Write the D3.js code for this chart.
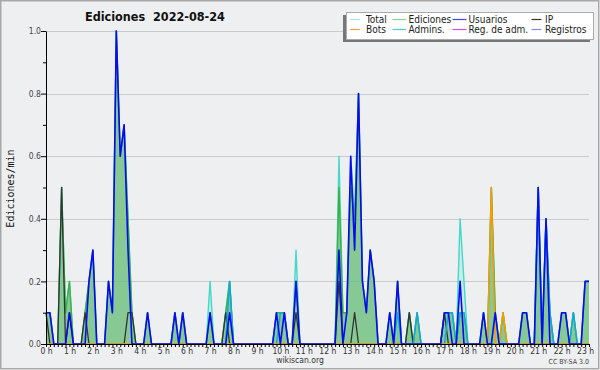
<!DOCTYPE html>
<html>
<head>
<meta charset="utf-8">
<script src="https://cdn.jsdelivr.net/npm/d3@7"></script>
<style>
  body { margin: 0; background: #fff; }
  text { font-family: "DejaVu Sans Condensed", "DejaVu Sans", sans-serif; font-stretch: condensed; }
</style>
</head>
<body>
<div id="chart"></div>
<script>
// Edits per minute, one value every 10 minutes from 00:00 to 23:10 (140 points)
var hourLabels = d3.range(0, 24).map(function(h) { return h + " h"; });
var yTicks = [0, 0.2, 0.4, 0.6, 0.8, 1.0];

var total = [
  .1,.1,0,0,.5,.1,.2,0,0,0,.1,.2,
  .3,0,0,0,.2,.1,1,.6,.7,.4,.1,0,
  0,0,.1,0,0,0,0,0,0,.1,0,.1,
  0,0,0,0,0,0,.2,0,0,0,.1,.2,
  0,0,0,0,0,0,0,0,0,0,0,.1,
  .1,.1,0,0,.3,0,0,0,0,0,0,0,
  0,0,0,.6,.1,.1,.6,.4,.8,.2,.1,.3,
  .2,0,0,0,.1,0,.2,0,0,.1,0,.1,
  0,0,0,0,0,0,.1,.1,.1,0,.4,.2,
  0,0,0,0,.1,0,.5,.1,0,.1,0,0,
  0,0,.1,.1,0,0,.5,0,.4,.1,0,0,
  .1,.1,0,.1,0,0,.2,.2
];
var edits = [
  .1,.1,0,0,.5,.1,.2,0,0,0,.1,.2,
  .3,0,0,0,.2,.1,1,.6,.7,.4,.1,0,
  0,0,.1,0,0,0,0,0,0,.1,0,.1,
  0,0,0,0,0,0,.1,0,0,0,.1,.2,
  0,0,0,0,0,0,0,0,0,0,0,.1,
  .1,.1,0,0,.2,0,0,0,0,0,0,0,
  0,0,0,.5,.1,.1,.5,.4,.8,.2,.1,.3,
  .2,0,0,0,.1,0,.2,0,0,.1,0,.1,
  0,0,0,0,0,0,.1,.1,.1,0,.1,.1,
  0,0,0,0,.1,0,.5,.1,0,.1,0,0,
  0,0,.1,.1,0,0,.5,0,.4,.1,0,0,
  .1,.1,0,.1,0,0,.2,.2
];
var users = [
  .1,.1,0,0,0,0,.1,0,0,0,0,.2,
  .3,0,0,0,.2,.1,1,.6,.7,.3,0,0,
  0,0,.1,0,0,0,0,0,0,.1,0,.1,
  0,0,0,0,0,0,.1,0,0,0,0,.1,
  0,0,0,0,0,0,0,0,0,0,0,.1,
  0,.1,0,0,.2,0,0,0,0,0,0,0,
  0,0,0,.3,0,.1,.6,.3,.8,.2,.1,.3,
  .2,0,0,0,.1,0,.2,0,0,0,0,0,
  0,0,0,0,0,0,.1,.1,0,0,.2,0,
  0,0,0,0,.1,0,0,.1,0,0,0,0,
  0,0,.1,.1,0,0,.5,0,.4,0,0,0,
  .1,.1,0,0,0,0,.2,.2
];
var ip = [
  .1,0,0,0,.5,0,.1,0,0,0,.1,0,
  0,0,0,0,0,0,0,0,0,.1,.1,0,
  0,0,0,0,0,0,0,0,0,0,0,0,
  0,0,0,0,0,0,0,0,0,0,.1,0,
  0,0,0,0,0,0,0,0,0,0,0,0,
  0,0,0,0,.1,0,0,0,0,0,0,0,
  0,0,0,.2,0,0,0,.1,0,0,0,0,
  0,0,0,0,0,0,0,0,0,.1,0,0,
  0,0,0,0,0,0,.1,0,0,0,0,0,
  0,0,0,0,0,0,0,0,0,0,0,0,
  0,0,0,0,0,0,0,0,0,0,0,0,
  0,0,0,0,0,0,0,0
];
var bots = [
  0,0,0,0,0,0,0,0,0,0,0,0,
  0,0,0,0,0,0,0,0,0,0,0,0,
  0,0,0,0,0,0,0,0,0,0,0,0,
  0,0,0,0,0,0,0,0,0,0,0,0,
  0,0,0,0,0,0,0,0,0,0,0,0,
  0,0,0,0,0,0,0,0,0,0,0,0,
  0,0,0,0,0,0,0,0,0,0,0,0,
  0,0,0,0,0,0,0,0,0,0,0,0,
  0,0,0,0,0,0,0,0,0,0,0,0,
  0,0,0,0,0,0,.5,0,0,.1,0,0,
  0,0,0,0,0,0,0,0,0,0,0,0,
  0,0,0,0,0,0,0,0
];
var admins = [
  0,0,0,0,0,0,0,0,0,0,0,0,
  0,0,0,0,0,0,0,0,0,0,0,0,
  0,0,0,0,0,0,0,0,0,0,0,0,
  0,0,0,0,0,0,0,0,0,0,0,.2,
  0,0,0,0,0,0,0,0,0,0,0,0,
  .1,.1,0,0,0,0,0,0,0,0,0,0,
  0,0,0,0,0,0,0,0,0,0,0,0,
  0,0,0,0,0,0,.1,0,0,0,0,.1,
  0,0,0,0,0,0,0,.1,.1,0,.1,.1,
  0,0,0,0,0,0,0,0,0,0,0,0,
  0,0,0,0,0,0,.5,0,.4,.1,0,0,
  0,0,0,.1,0,0,0,0
];

var legendNames = ["Total", "Ediciones", "Usuarios", "IP", "Bots", "Admins.", "Reg. de adm.", "Registros"];
var legendColors = ["#a6e4dc", "#8fd08f", "#4444e8", "#333333", "#f5a040", "#4cc8d8", "#d050e0", "#8888f0"];

var width = 600, height = 370;

var svg = d3.select("#chart").append("svg")
  .attr("width", width)
  .attr("height", height);

svg.append("rect")
  .attr("x", 0.75).attr("y", 0.75)
  .attr("width", width - 2).attr("height", height - 2)
  .style("fill", "#eeeff1")
  .style("stroke", "#a8a8a8")
  .style("stroke-width", 1.5);

var x = d3.scaleLinear().domain([0, total.length - 1]).range([46, 589]);
var y = d3.scaleLinear().domain([0, 1]).range([344, 31]);

// grid
svg.append("g").selectAll("line")
  .data(yTicks.slice(1))
  .enter().append("line")
  .attr("x1", x(0)).attr("x2", x(total.length - 1))
  .attr("y1", function(d) { return Math.round(y(d)) + 0.5; })
  .attr("y2", function(d) { return Math.round(y(d)) + 0.5; })
  .style("stroke", "#cbcbcb");

// series
var area = d3.area()
  .x(function(d, i) { return x(i); })
  .y0(y(0))
  .y1(function(d) { return y(d); });
var line = d3.line()
  .x(function(d, i) { return x(i); })
  .y(function(d) { return y(d); });

svg.append("path").datum(total).attr("d", area)
  .style("fill", "#aee8e0").style("opacity", 0.55);
svg.append("path").datum(edits).attr("d", area)
  .style("fill", "#50ad50").style("opacity", 0.55);

var lines = [
  { data: total, color: "#44d8c8", w: 1.4 },
  { data: edits, color: "#3cb043", w: 1.4 },
  { data: ip, color: "#333333", w: 1.3 },
  { data: admins, color: "#14a8d8", w: 1.5 },
  { data: bots, color: "#ff9900", w: 1.5 },
  { data: users, color: "#0a0af0", w: 1.6 }
];
lines.forEach(function(s) {
  svg.append("path").datum(s.data).attr("d", line)
    .style("fill", "none")
    .style("stroke", s.color)
    .style("stroke-width", s.w)
    .style("stroke-linejoin", "round");
});

// axes
var xAxis = d3.axisBottom(x)
  .tickValues(d3.range(0, total.length))
  .tickSize(3).tickSizeOuter(0)
  .tickFormat(function(i) { return i % 6 === 0 ? hourLabels[i / 6] : ""; });
var gx = svg.append("g")
  .attr("transform", "translate(0,344)")
  .call(xAxis);
gx.select(".domain").style("stroke", "#000");
gx.selectAll(".tick line").style("stroke", "#000");
gx.selectAll(".tick text")
  .attr("y", 4)
  .style("font-size", "8.5px")
  .style("fill", "#333")
  .style("font-family", null);

var gyMinor = svg.append("g")
  .attr("transform", "translate(46,0)")
  .call(d3.axisLeft(y).tickValues([0.1, 0.3, 0.5, 0.7, 0.9]).tickSize(3).tickFormat(""));
gyMinor.select(".domain").remove();
gyMinor.selectAll(".tick line").style("stroke", "#000");

var gy = svg.append("g")
  .attr("transform", "translate(46,0)")
  .call(d3.axisLeft(y).tickValues(yTicks).tickSize(5).tickSizeOuter(0).tickFormat(d3.format(".1f")));
gy.select(".domain").style("stroke", "#000");
gy.selectAll(".tick line").style("stroke", "#000");
gy.selectAll(".tick text")
  .attr("x", -5)
  .style("font-size", "8.5px")
  .style("fill", "#444")
  .style("font-family", null);

// texts
svg.append("text")
  .attr("x", 85).attr("y", 20.7)
  .attr("xml:space", "preserve")
  .style("font-weight", "bold")
  .style("font-size", "12.5px")
  .style("fill", "#111")
  .text("Ediciones  2022-08-24");

svg.append("text")
  .attr("transform", "translate(13.5,188.5) rotate(-90)")
  .style("text-anchor", "middle")
  .style("font-family", "'DejaVu Sans Mono', monospace")
  .style("font-stretch", "normal")
  .style("font-size", "10px")
  .style("fill", "#111")
  .text("Ediciones/min");

svg.append("text")
  .attr("x", 300).attr("y", 363)
  .style("text-anchor", "middle")
  .style("font-size", "8.5px")
  .style("fill", "#333")
  .text("wikiscan.org");

svg.append("text")
  .attr("x", 589).attr("y", 364)
  .style("text-anchor", "end")
  .style("font-size", "7px")
  .style("fill", "#444")
  .text("CC BY-SA 3.0");

// legend
var legendBox = { x: 346, y: 12, w: 247, h: 27 };
svg.append("rect")
  .attr("x", legendBox.x - 3).attr("y", legendBox.y + 3)
  .attr("width", legendBox.w).attr("height", legendBox.h)
  .style("fill", "#777");
svg.append("rect")
  .attr("x", legendBox.x + 0.5).attr("y", legendBox.y + 0.5)
  .attr("width", legendBox.w).attr("height", legendBox.h)
  .style("fill", "#fff")
  .style("stroke", "#aaa");

var colLine = [[350, 360], [392.5, 406], [452.5, 466.5], [531.5, 541.5]];
var colText = [366, 408.5, 468.5, 545];
var legend = svg.selectAll(".legend")
  .data(legendNames)
  .enter().append("g")
  .attr("class", "legend")
  .attr("transform", function(d, i) { return "translate(0," + (i < 4 ? 19.5 : 29.5) + ")"; });
legend.append("line")
  .attr("x1", function(d, i) { return colLine[i % 4][0]; })
  .attr("x2", function(d, i) { return colLine[i % 4][1]; })
  .style("stroke", function(d, i) { return legendColors[i]; })
  .style("stroke-width", 1.2);
legend.append("text")
  .attr("x", function(d, i) { return colText[i % 4]; })
  .attr("y", 3.5)
  .style("font-size", "10px")
  .style("fill", "#222")
  .text(function(d) { return d; });
</script>
</body>
</html>
